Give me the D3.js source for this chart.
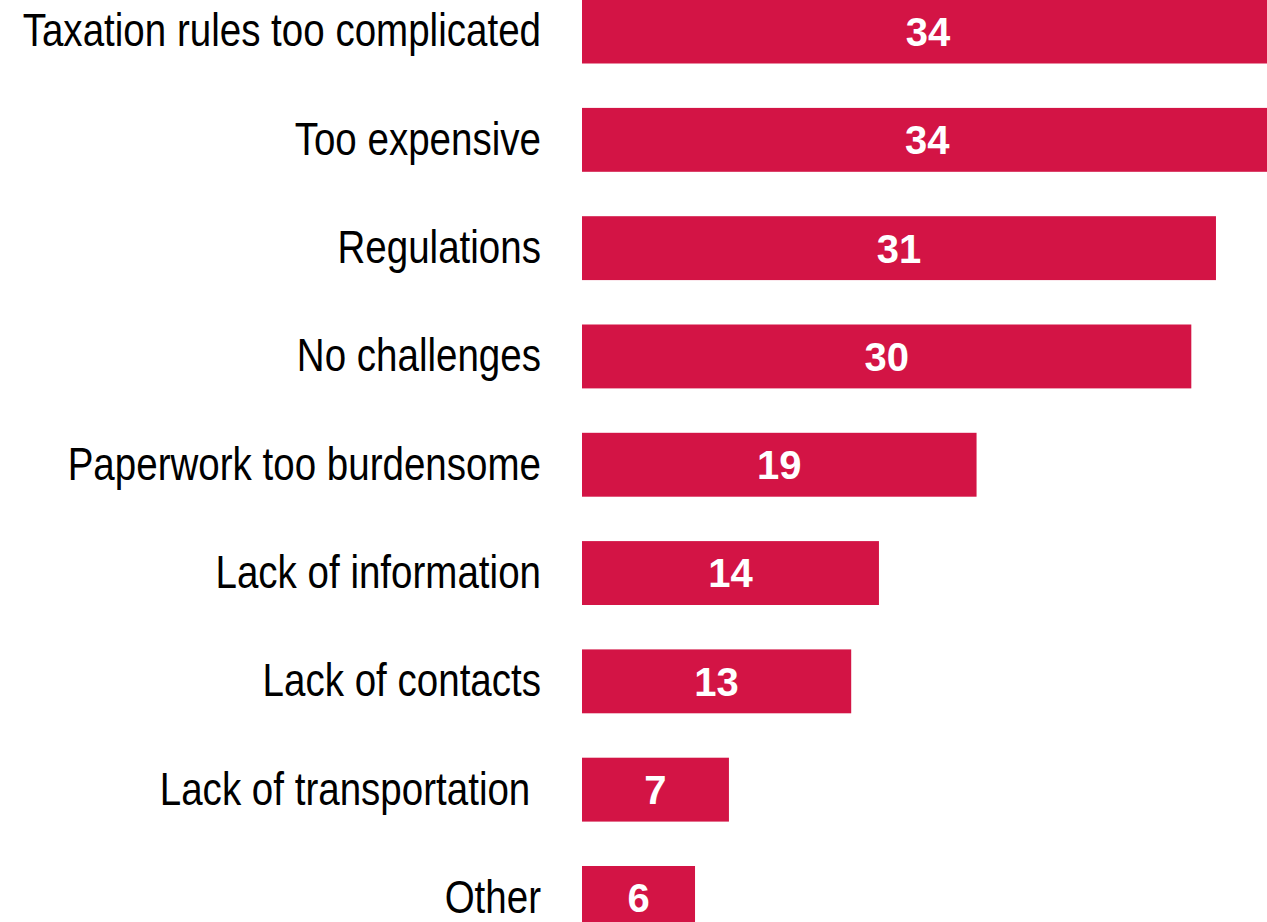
<!DOCTYPE html>
<html>
<head>
<meta charset="utf-8">
<script src="https://cdn.jsdelivr.net/npm/d3@7"></script>
<style>
  html, body { margin: 0; padding: 0; background: #fff; overflow: hidden; }
  svg { display: block; }
</style>
</head>
<body>
<div id="chart"></div>
<script>
// categories, top to bottom
var categories = [
  "Taxation rules too complicated",
  "Too expensive",
  "Regulations",
  "No challenges",
  "Paperwork too burdensome",
  "Lack of information",
  "Lack of contacts",
  "Lack of transportation ",
  "Other"
];
// estimated underlying shares (labels show them rounded)
var values = [33.7, 33.6, 30.85, 29.65, 19.2, 14.45, 13.1, 7.15, 5.5];

var width = 1267, height = 922;
var barColor = "#d31445";

var svg = d3.select("#chart")
  .append("svg")
    .attr("width", width)
    .attr("height", height);

var data = categories.map(function(c, i) { return {cat: c, value: values[i]}; });

// x scale runs past the right edge, the long bars get clipped there
var x = d3.scaleLinear()
  .domain([0, 35])
  .range([582, 582 + 35 * 20.55]);

var y = d3.scaleBand()
  .domain(categories)
  .range([-22.6, -22.6 + 9 * 108.3])
  .paddingInner(0.41)
  .paddingOuter(0.205);

svg.append("g")
  .selectAll("rect")
  .data(data)
  .enter()
  .append("rect")
    .attr("x", x(0))
    .attr("y", function(d) { return y(d.cat); })
    .attr("width", function(d) { return x(d.value) - x(0); })
    .attr("height", y.bandwidth())
    .style("fill", barColor);

// category labels, narrow sans
svg.append("g")
  .selectAll("text")
  .data(data)
  .enter()
  .append("text")
    .attr("transform", function(d) {
      return "translate(541," + (y(d.cat) + y.bandwidth() / 2 - 2) + ") scale(0.82,1)";
    })
    .attr("text-anchor", "end")
    .attr("dy", "0.36em")
    .style("white-space", "pre")
    .style("font-family", "'Liberation Sans', Arial, sans-serif")
    .style("font-size", "47px")
    .style("fill", "#000")
    .text(function(d) { return d.cat; });

// value labels centred on the visible part of each bar
svg.append("g")
  .selectAll("text")
  .data(data)
  .enter()
  .append("text")
    .attr("x", function(d) { return (x(0) + Math.min(x(d.value), width + 7)) / 2; })
    .attr("y", function(d) { return y(d.cat) + y.bandwidth() / 2; })
    .attr("dy", "0.36em")
    .attr("text-anchor", "middle")
    .style("font-family", "'Liberation Sans', Arial, sans-serif")
    .style("font-weight", "bold")
    .style("font-size", "40px")
    .style("fill", "#fff")
    .text(function(d) { return d3.format(".0f")(d.value); });
</script>
</body>
</html>
